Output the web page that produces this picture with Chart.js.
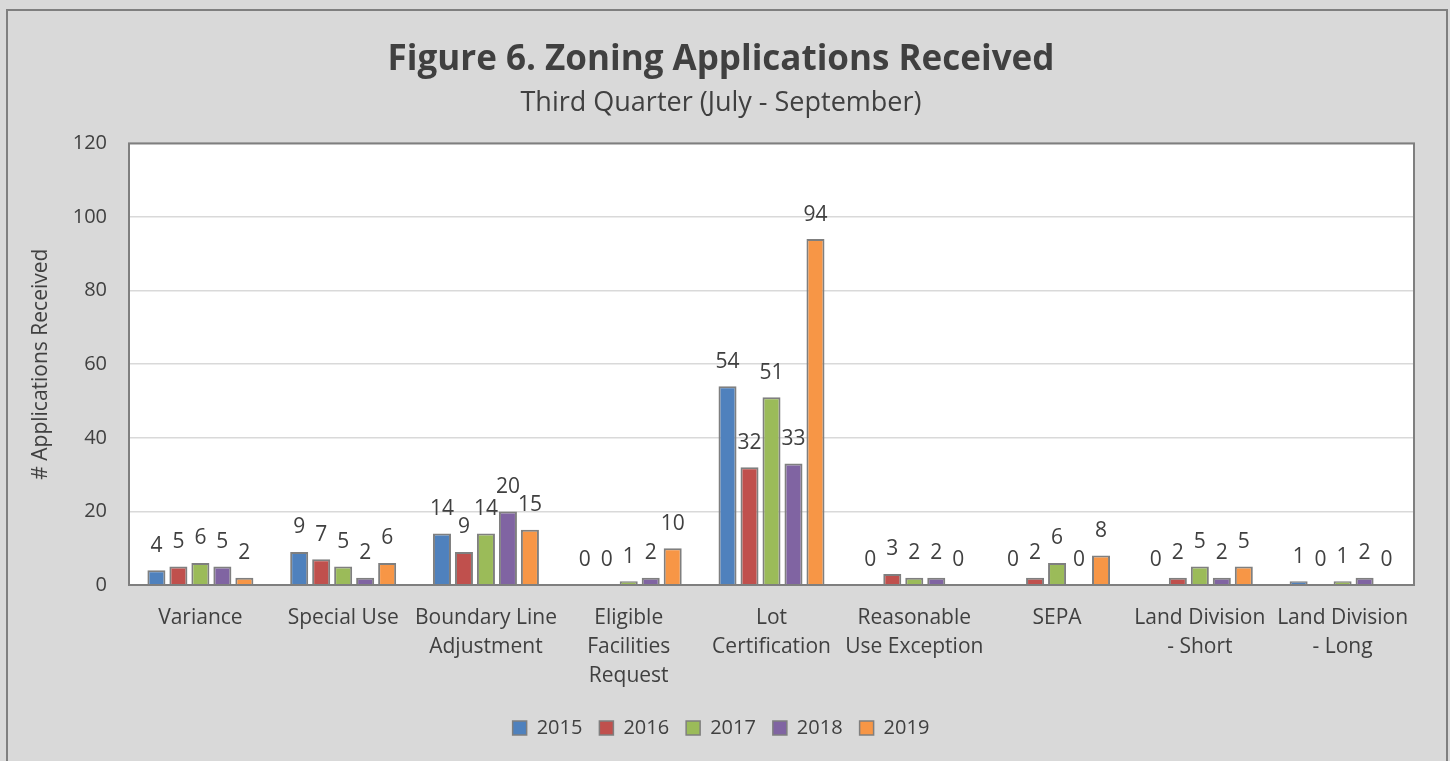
<!DOCTYPE html>
<html>
<head>
<meta charset="utf-8">
<script src="https://cdn.jsdelivr.net/npm/chart.js@4/dist/chart.umd.min.js"></script>
<style>
  html, body { margin: 0; padding: 0; background: #d9d9d9; }
  #wrap { width: 1450px; height: 761px; }
</style>
</head>
<body>
<div id="wrap"><canvas id="chart"></canvas></div>
<script>
const categories = [
    ['Variance'],
    ['Special Use'],
    ['Boundary Line', 'Adjustment'],
    ['Eligible', 'Facilities', 'Request'],
    ['Lot', 'Certification'],
    ['Reasonable', 'Use Exception'],
    ['SEPA'],
    ['Land Division', '- Short'],
    ['Land Division', '- Long']
]
const years = ['2015', '2016', '2017', '2018', '2019']
const values2015 = [4, 9, 14, 0, 54, 0, 0, 0, 1]
const values2016 = [5, 7, 9, 0, 32, 3, 2, 2, 0]
const values2017 = [6, 5, 14, 1, 51, 2, 6, 5, 1]
const values2018 = [5, 2, 20, 2, 33, 2, 0, 2, 2]
const values2019 = [2, 6, 15, 10, 94, 0, 8, 5, 0]
const seriesColors = ['#4f81bd', '#c0504d', '#9bbb59', '#8064a2', '#f79646']

const FONT = "'Open Sans', 'Liberation Sans', sans-serif"
const TEXT = '#404040'

// grey page, outer frame and white plot area
const backdrop = {
    id: 'backdrop',
    beforeDraw(chart) {
        const { ctx, chartArea: a } = chart
        ctx.save()
        ctx.fillStyle = '#d9d9d9'
        ctx.fillRect(0, 0, chart.width, chart.height)
        ctx.strokeStyle = '#7f7f7f'
        ctx.lineWidth = 2
        ctx.strokeRect(7, 10, 1440, 770)
        ctx.fillStyle = '#ffffff'
        ctx.fillRect(a.left, a.top, a.right - a.left, a.bottom - a.top)
        ctx.restore()
    },
    afterDatasetsDraw(chart) {
        const { ctx, chartArea: a } = chart
        ctx.save()
        ctx.strokeStyle = '#7f7f7f'
        ctx.lineWidth = 2
        ctx.strokeRect(a.left, a.top, a.right - a.left, a.bottom - a.top)
        ctx.restore()
    }
}

// value labels above each bar
const valueLabels = {
    id: 'valueLabels',
    afterDatasetsDraw(chart) {
        const { ctx } = chart
        ctx.save()
        ctx.font = `21px ${FONT}`
        ctx.fillStyle = TEXT
        ctx.textAlign = 'center'
        ctx.textBaseline = 'bottom'
        chart.data.datasets.forEach((ds, i) => {
            chart.getDatasetMeta(i).data.forEach((bar, j) => {
                ctx.fillText(String(ds.data[j]), bar.x, bar.y - 14)
            })
        })
        ctx.restore()
    }
}

const allValues = [values2015, values2016, values2017, values2018, values2019]

new Chart(document.getElementById('chart'), {
    type: 'bar',
    data: {
        labels: categories,
        datasets: years.map((year, i) => ({
            label: year,
            data: allValues[i],
            backgroundColor: seriesColors[i],
            borderColor: '#7f7f7f',
            borderWidth: ctx => (ctx.raw === 0 ? 0 : 2),
            borderSkipped: 'bottom',
            categoryPercentage: 0.77,
            barPercentage: 0.82
        }))
    },
    options: {
        responsive: true,
        maintainAspectRatio: false,
        animation: false,
        layout: { padding: { left: 28, right: 36, top: 39, bottom: 13 } },
        plugins: {
            title: {
                display: true,
                text: 'Figure 6. Zoning Applications Received',
                color: TEXT,
                font: { family: FONT, size: 35, weight: 'bold', lineHeight: 1.2 },
                padding: { top: 0, bottom: 6 }
            },
            subtitle: {
                display: true,
                text: 'Third Quarter (July - September)',
                color: TEXT,
                font: { family: FONT, size: 27, lineHeight: 1.2 },
                padding: { top: 0, bottom: 24 }
            },
            legend: {
                position: 'bottom',
                labels: {
                    color: TEXT,
                    font: { family: FONT, size: 20 },
                    boxWidth: 14,
                    boxHeight: 14,
                    padding: 17,
                    generateLabels: chart => chart.data.datasets.map((ds, i) => ({
                        text: ds.label,
                        fillStyle: ds.backgroundColor,
                        strokeStyle: '#7f7f7f',
                        lineWidth: 1.5,
                        fontColor: TEXT,
                        datasetIndex: i
                    }))
                }
            },
            tooltip: { enabled: false }
        },
        scales: {
            x: {
                grid: { display: false, drawTicks: false },
                border: { display: false },
                ticks: {
                    color: TEXT,
                    font: { family: FONT, size: 21, lineHeight: 1.38 },
                    padding: 19,
                    maxRotation: 0,
                    autoSkip: false
                },
                afterFit: scale => { scale.height = 116 }
            },
            y: {
                min: 0,
                max: 120,
                title: {
                    display: true,
                    text: '# Applications Received',
                    color: TEXT,
                    font: { family: FONT, size: 21 },
                    padding: { top: 0, bottom: 8 }
                },
                grid: { color: '#d9d9d9', lineWidth: 1.5, drawTicks: false },
                border: { display: false },
                ticks: {
                    stepSize: 20,
                    color: TEXT,
                    font: { family: FONT, size: 20 },
                    padding: 22
                },
                afterFit: scale => { scale.width = 101 }
            }
        }
    },
    plugins: [backdrop, valueLabels]
})
</script>
</body>
</html>
